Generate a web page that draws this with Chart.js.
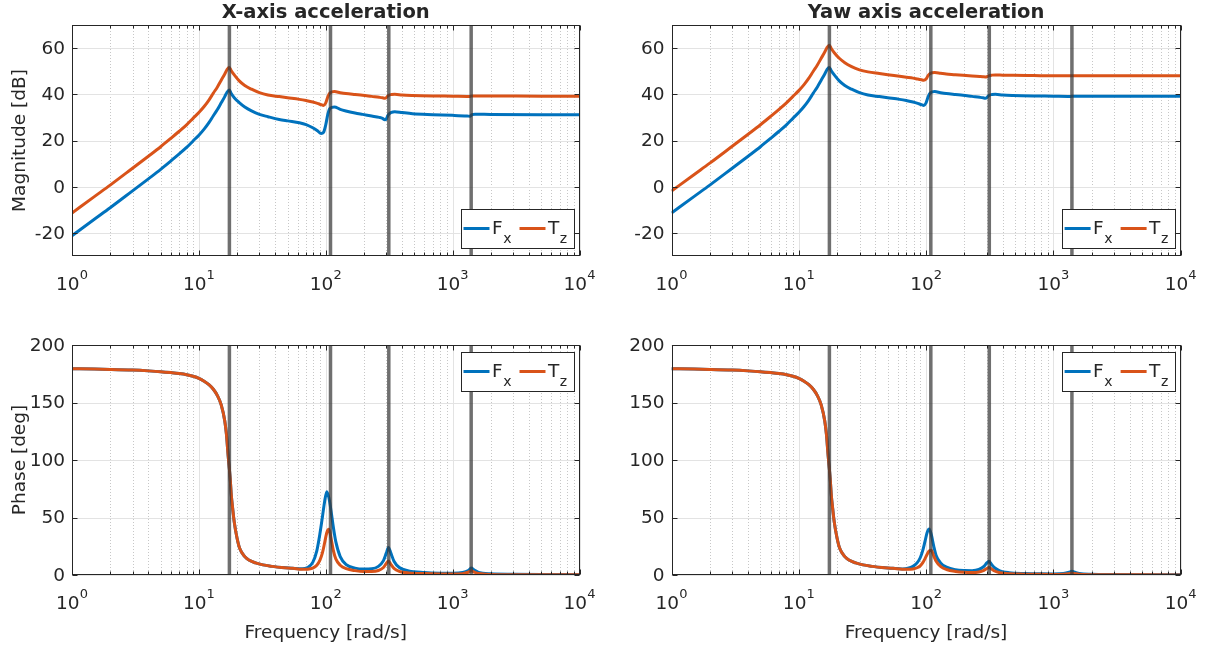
<!DOCTYPE html>
<html>
<head>
<meta charset="utf-8">
<script src="https://cdn.jsdelivr.net/npm/chart.js@4.4.1/dist/chart.umd.min.js"></script>
<style>
  html, body { margin: 0; padding: 0; background: #fff; }
  #wrap { position: relative; width: 1210px; height: 650px; overflow: hidden; }
  .cell { position: absolute; }
</style>
</head>
<body>
<div id="wrap">
  <div class="cell" style="left:0;top:0;width:605px;height:300px"><canvas id="magX"></canvas></div>
  <div class="cell" style="left:605px;top:0;width:605px;height:300px"><canvas id="magYaw"></canvas></div>
  <div class="cell" style="left:0;top:320px;width:605px;height:330px"><canvas id="phX"></canvas></div>
  <div class="cell" style="left:605px;top:320px;width:605px;height:330px"><canvas id="phYaw"></canvas></div>
</div>
<script>
// frequency grid of the magnitude curves [rad/s]
const freqMag = [1, 1.5, 2, 3, 4, 5, 6, 7, 8, 9, 10, 11, 12, 13, 14, 15, 16, 16.7, 17.4, 18,
  19, 20.8, 23, 26, 30, 35, 43, 50, 62, 70, 79, 86, 92, 96, 100, 104, 108, 117, 130, 144,
  170, 195, 230, 264, 280, 292, 300, 310, 330, 350, 400, 483, 700, 1000, 1300, 1370, 1420, 1500, 2000, 5000, 10000];

// magnitude [dB], X-axis acceleration
const magXFx = [-21.2, -14.1, -9.1, -1.8, 3.4, 7.5, 11.1, 14.2, 17.0, 19.8, 22.3, 24.9, 27.7, 30.7, 33.4, 36.3, 39.0, 41.0, 41.9, 40.3,
  38.5, 36.4, 34.5, 32.8, 31.3, 30.3, 29.1, 28.5, 27.7, 26.9, 25.5, 24.2, 23.0, 23.5, 26.8, 31.5, 33.9, 34.5, 33.5, 32.8,
  31.9, 31.3, 30.6, 30.0, 29.6, 29.0, 29.3, 31.0, 32.2, 32.5, 32.1, 31.6, 31.2, 30.9, 30.6, 30.5, 31.2, 31.4, 31.3, 31.2, 31.2];
const magXTz = [-11.4, -4.3, 0.7, 8.0, 13.2, 17.3, 20.9, 24.0, 26.8, 29.6, 32.1, 34.7, 37.5, 40.5, 43.2, 46.1, 48.8, 50.8, 51.6, 50.2,
  48.4, 45.8, 43.8, 42.2, 40.7, 39.7, 39.0, 38.5, 37.8, 37.3, 36.7, 36.1, 35.5, 35.2, 36.3, 39.0, 40.6, 41.2, 40.7, 40.3,
  39.9, 39.6, 39.1, 38.7, 38.5, 38.3, 38.5, 39.4, 39.9, 40.0, 39.7, 39.5, 39.3, 39.2, 39.1, 39.1, 39.3, 39.3, 39.3, 39.2, 39.2];

// magnitude [dB], yaw axis acceleration
const magYawFx = [-11.4, -4.3, 0.7, 8.0, 13.2, 17.3, 20.9, 24.0, 26.8, 29.6, 32.1, 34.7, 37.5, 40.5, 43.2, 46.1, 48.8, 50.8, 51.6, 50.2,
  48.4, 45.8, 43.8, 42.2, 40.7, 39.7, 39.0, 38.5, 37.8, 37.3, 36.7, 36.1, 35.5, 35.2, 36.3, 39.0, 40.6, 41.2, 40.7, 40.3,
  39.9, 39.6, 39.1, 38.7, 38.5, 38.3, 38.5, 39.4, 39.9, 40.0, 39.7, 39.5, 39.3, 39.2, 39.1, 39.1, 39.2, 39.2, 39.2, 39.2, 39.2];
const magYawTz = [-1.9, 5.2, 10.2, 17.5, 22.7, 26.8, 30.4, 33.5, 36.3, 39.1, 41.6, 44.2, 47.0, 50.0, 52.7, 55.6, 58.3, 60.3, 61.2, 59.8,
  58.0, 55.6, 53.7, 52.0, 50.6, 49.7, 49.0, 48.5, 47.8, 47.4, 47.0, 46.6, 46.3, 46.1, 46.6, 48.2, 49.1, 49.4, 49.1, 48.8,
  48.5, 48.2, 47.9, 47.7, 47.6, 47.5, 47.6, 48.0, 48.3, 48.4, 48.3, 48.2, 48.1, 48.0, 48.0, 48.0, 48.0, 48.0, 48.0, 48.0, 48.0];

// frequency grid of the phase curves [rad/s]
const freqPh = [1, 1.5, 2, 3, 4, 5, 6, 7, 8, 9, 10, 11, 12, 13, 14, 15, 16, 16.5, 17, 17.4,
  17.7, 18, 18.5, 19, 20, 21, 23, 25, 28, 32, 38, 45, 55,
  65, 72, 79, 85, 90, 94, 98, 102, 106, 110, 115, 120, 130, 145, 170, 200, 230, 260, 285, 300,
  312, 325, 345, 380, 450, 600, 800, 1000, 1200, 1330, 1400, 1480, 1600, 2000, 3000, 5000, 10000];

// phase [deg] below 60 rad/s, common to all four curves
const phaseLow = [179.4, 179.1, 178.8, 178.2, 177.5, 176.8, 176.0, 175.2, 174.2, 172.8, 171.0, 168.5, 165.5, 161.5, 156, 148, 134, 122, 104, 92,
  82, 70, 57, 46, 32, 23, 16, 12.8, 10.5, 8.8, 7.5, 6.5, 5.8];
// phase [deg] from 65 rad/s upward
const phXFxHigh = [5.4, 6.5, 11, 21, 36, 50, 64, 72.5, 67, 56, 41, 29, 16, 9, 6, 5.2, 5.4, 7.5, 12.5, 19,
  24, 19.5, 12, 6.5, 3.6, 2.2, 1.6, 1.5, 2.1, 3.9, 6.0, 4.3, 2.3, 1.0, 0.6, 0.4, 0.3];
const phXTzHigh = [5.0, 5.1, 6, 8.5, 13, 19, 28, 37, 39.7, 32, 21, 14, 8.5, 5.5, 3.8, 3.0, 3.0, 3.9, 6.5, 10,
  12.2, 9.5, 5.8, 3.2, 1.8, 1.2, 0.9, 0.85, 1.2, 2.4, 3.6, 2.5, 1.3, 0.5, 0.3, 0.2, 0.15];
const phYawFxHigh = [5.3, 5.8, 7.5, 10.5, 15, 21, 29, 37, 40, 35, 25, 17, 10.5, 6.8, 4.6, 3.9, 3.8, 4.8, 7.5, 10.5,
  12, 9.6, 6.3, 3.6, 2.0, 1.3, 1.0, 0.9, 1.3, 2.4, 3.3, 2.4, 1.3, 0.6, 0.35, 0.25, 0.2];
const phYawTzHigh = [5.0, 4.9, 5.3, 6.3, 8, 10.5, 14, 18, 21, 21.5, 16.5, 12, 7.5, 4.8, 3.1, 2.3, 2.1, 2.6, 4.1, 5.6,
  6.5, 5.4, 3.5, 2.0, 1.1, 0.75, 0.55, 0.5, 0.7, 1.2, 1.6, 1.2, 0.7, 0.3, 0.2, 0.15, 0.1];

// resonance frequencies marked with vertical lines
const modeFreqs = [17.4, 109, 314, 1400];

const magTicks = [-20, 0, 20, 40, 60];
const phaseTicks = [0, 50, 100, 150, 200];
const decades = [0, 1, 2, 3, 4];

const BLUE = '#0072BD';
const ORANGE = '#D95319';
const MODE_GRAY = 'rgba(55,55,55,0.72)';
const TEXT = '#262626';
const FONT = '"DejaVu Sans", "Liberation Sans", Arial, sans-serif';

function toPts(xs, ys) {
  return xs.map((x, i) => ({ x: x, y: ys[i] }));
}

const matlabAxes = {
  id: 'matlabAxes',
  beforeDatasetsDraw(chart, args, o) {
    const { ctx, chartArea: a, scales: { x, y } } = chart;
    ctx.save();
    ctx.lineWidth = 1;
    // minor grid, dotted
    ctx.strokeStyle = 'rgba(0,0,0,0.22)';
    ctx.setLineDash([1, 2]);
    for (let d = 0; d < 4; d++) {
      for (let k = 2; k <= 9; k++) {
        const px = Math.round(x.getPixelForValue(k * Math.pow(10, d))) + 0.5;
        ctx.beginPath(); ctx.moveTo(px, a.top); ctx.lineTo(px, a.bottom); ctx.stroke();
      }
    }
    ctx.setLineDash([]);
    // major grid
    ctx.strokeStyle = '#e3e3e3';
    decades.forEach(d => {
      const px = Math.round(x.getPixelForValue(Math.pow(10, d))) + 0.5;
      ctx.beginPath(); ctx.moveTo(px, a.top); ctx.lineTo(px, a.bottom); ctx.stroke();
    });
    o.yTicks.forEach(v => {
      const py = Math.round(y.getPixelForValue(v)) + 0.5;
      ctx.beginPath(); ctx.moveTo(a.left, py); ctx.lineTo(a.right, py); ctx.stroke();
    });
    ctx.restore();
  },
  afterDatasetsDraw(chart, args, o) {
    const { ctx, chartArea: a, scales: { x, y } } = chart;
    ctx.save();
    // axes box + inward ticks
    ctx.strokeStyle = TEXT;
    ctx.lineWidth = 1;
    const L = Math.round(a.left) + 0.5, R = Math.round(a.right) - 0.5;
    const T = Math.round(a.top) + 0.5, B = Math.round(a.bottom) - 0.5;
    ctx.strokeRect(L, T, R - L, B - T);
    ctx.beginPath();
    for (let d = 0; d <= 4; d++) {
      for (let k = 1; k <= 9; k++) {
        if (d === 4 && k > 1) break;
        const px = Math.round(x.getPixelForValue(k * Math.pow(10, d))) + 0.5;
        const len = k === 1 ? 5 : 3;
        ctx.moveTo(px, B); ctx.lineTo(px, B - len);
        ctx.moveTo(px, T); ctx.lineTo(px, T + len);
      }
    }
    o.yTicks.forEach(v => {
      const py = Math.round(y.getPixelForValue(v)) + 0.5;
      ctx.moveTo(L, py); ctx.lineTo(L + 5, py);
      ctx.moveTo(R, py); ctx.lineTo(R - 5, py);
    });
    ctx.stroke();

    // legend
    const bw = 113, bh = 39;
    const bx = a.right - 6 - bw;
    const by = o.legendTop ? a.top + 7 : a.bottom - 8 - bh;
    ctx.fillStyle = '#fff';
    ctx.fillRect(bx, by, bw, bh);
    ctx.strokeStyle = TEXT;
    ctx.strokeRect(Math.round(bx) + 0.5, Math.round(by) + 0.5, bw, bh);
    const my = by + bh / 2;
    const items = [
      { c: BLUE, main: 'F', sub: 'x', x0: 3 },
      { c: ORANGE, main: 'T', sub: 'z', x0: 59 }
    ];
    items.forEach(it => {
      ctx.strokeStyle = it.c;
      ctx.lineWidth = 3;
      ctx.beginPath(); ctx.moveTo(bx + it.x0, my); ctx.lineTo(bx + it.x0 + 26, my); ctx.stroke();
      ctx.fillStyle = TEXT;
      ctx.textAlign = 'left';
      ctx.textBaseline = 'alphabetic';
      ctx.font = '18.5px ' + FONT;
      const tx = bx + it.x0 + 28.5;
      ctx.fillText(it.main, tx, my + 5);
      const w = ctx.measureText(it.main).width;
      ctx.font = '14px ' + FONT;
      ctx.fillText(it.sub, tx + w + 0.5, my + 14.5);
    });

    ctx.restore();
  },
  afterDraw(chart, args, o) {
    const { ctx, chartArea: a, scales: { x, y } } = chart;
    ctx.save();
    ctx.fillStyle = TEXT;
    // y tick labels
    ctx.font = '18.5px ' + FONT;
    ctx.textAlign = 'right';
    ctx.textBaseline = 'middle';
    o.yTicks.forEach(v => {
      ctx.fillText(String(v), a.left - 7, y.getPixelForValue(v) + 1);
    });
    // x tick labels 10^n
    ctx.textBaseline = 'alphabetic';
    ctx.textAlign = 'left';
    decades.forEach(d => {
      const px = x.getPixelForValue(Math.pow(10, d));
      ctx.font = '18.5px ' + FONT;
      const w1 = ctx.measureText('10').width;
      ctx.font = '13px ' + FONT;
      const w2 = ctx.measureText(String(d)).width;
      const x0 = px - (w1 + w2) / 2;
      ctx.font = '18.5px ' + FONT;
      ctx.fillText('10', x0, a.bottom + 34);
      ctx.font = '13px ' + FONT;
      ctx.fillText(String(d), x0 + w1, a.bottom + 23);
    });
    // axis titles
    ctx.textAlign = 'center';
    if (o.title) {
      ctx.font = 'bold 19.5px ' + FONT;
      ctx.fillText(o.title, (a.left + a.right) / 2, a.top - 7);
    }
    if (o.xTitle) {
      ctx.font = '18.5px ' + FONT;
      ctx.fillText(o.xTitle, (a.left + a.right) / 2, a.bottom + 63);
    }
    if (o.yTitle) {
      ctx.font = '18.5px ' + FONT;
      ctx.translate(25, (a.top + a.bottom) / 2);
      ctx.rotate(-Math.PI / 2);
      ctx.fillText(o.yTitle, 0, 0);
    }
    ctx.restore();
  }
};

function makePanel(id, p) {
  const datasets = [
    { label: 'Fx', data: toPts(p.freq, p.fx), borderColor: BLUE, borderWidth: 3, order: 2 },
    { label: 'Tz', data: toPts(p.freq, p.tz), borderColor: ORANGE, borderWidth: 3, order: 1 }
  ];
  modeFreqs.forEach(f => {
    datasets.push({
      label: 'mode', data: [{ x: f, y: p.yMin }, { x: f, y: p.yMax }],
      borderColor: MODE_GRAY, borderWidth: 3.5, order: 0
    });
  });

  return new Chart(document.getElementById(id), {
    type: 'line',
    data: { datasets: datasets },
    options: {
      responsive: true,
      maintainAspectRatio: false,
      animation: false,
      events: [],
      layout: { padding: { left: 0, right: p.padRight, top: 25, bottom: 0 } },
      elements: {
        point: { radius: 0 },
        line: { cubicInterpolationMode: 'monotone', borderCapStyle: 'butt', borderJoinStyle: 'round' }
      },
      plugins: {
        legend: { display: false },
        tooltip: { enabled: false },
        matlabAxes: { yTicks: p.yTicks, title: p.title, xTitle: p.xTitle, yTitle: p.yTitle, legendTop: p.legendTop }
      },
      scales: {
        x: {
          type: 'logarithmic', min: 1, max: 10000,
          ticks: { display: false }, grid: { display: false }, border: { display: false },
          afterFit: s => { s.height = p.xAxisH; }
        },
        y: {
          type: 'linear', min: p.yMin, max: p.yMax,
          ticks: { display: false }, grid: { display: false }, border: { display: false },
          afterBuildTicks: s => { s.ticks = p.yTicks.map(v => ({ value: v })); },
          afterFit: s => { s.width = p.yAxisW; }
        }
      }
    },
    plugins: [matlabAxes]
  });
}

makePanel('magX', {
  freq: freqMag, fx: magXFx, tz: magXTz, yMin: -30, yMax: 70, yTicks: magTicks,
  title: 'X-axis acceleration', yTitle: 'Magnitude [dB]', legendTop: false,
  yAxisW: 72, padRight: 25.5, xAxisH: 44
});
makePanel('magYaw', {
  freq: freqMag, fx: magYawFx, tz: magYawTz, yMin: -30, yMax: 70, yTicks: magTicks,
  title: 'Yaw axis acceleration', legendTop: false,
  yAxisW: 66.5, padRight: 29.4, xAxisH: 44
});
makePanel('phX', {
  freq: freqPh, fx: phaseLow.concat(phXFxHigh), tz: phaseLow.concat(phXTzHigh), yMin: 0, yMax: 200, yTicks: phaseTicks,
  xTitle: 'Frequency [rad/s]', yTitle: 'Phase [deg]', legendTop: true,
  yAxisW: 72, padRight: 25.5, xAxisH: 75
});
makePanel('phYaw', {
  freq: freqPh, fx: phaseLow.concat(phYawFxHigh), tz: phaseLow.concat(phYawTzHigh), yMin: 0, yMax: 200, yTicks: phaseTicks,
  xTitle: 'Frequency [rad/s]', legendTop: true,
  yAxisW: 66.5, padRight: 29.4, xAxisH: 75
});
</script>
</body>
</html>
